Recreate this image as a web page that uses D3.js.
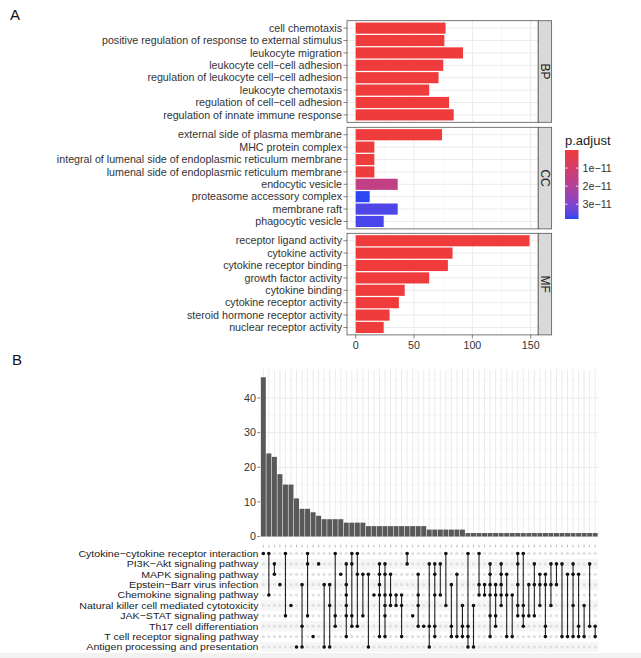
<!DOCTYPE html>
<html><head><meta charset="utf-8">
<script src="https://cdn.jsdelivr.net/npm/d3@7"></script>
<style>
body{margin:0;background:#fff}
svg{display:block}
text{font-family:"Liberation Sans",Arial,Helvetica,sans-serif}
</style>
</head><body>
<svg id="c" width="641" height="658"></svg>
<script>
// ---------- Panel A data ----------
const bpTerms = ["cell chemotaxis","positive regulation of response to external stimulus","leukocyte migration","leukocyte cell\u2212cell adhesion","regulation of leukocyte cell\u2212cell adhesion","leukocyte chemotaxis","regulation of cell\u2212cell adhesion","regulation of innate immune response"];
const bpCounts = [77,76,92,75,71,63,80,84];
const bpPadj = [3.1e-22,5.4e-20,1.2e-24,2.0e-19,3.3e-18,6.1e-18,7.5e-19,1.1e-18];

const ccTerms = ["external side of plasma membrane","MHC protein complex","integral of lumenal side of endoplasmic reticulum membrane","lumenal side of endoplasmic reticulum membrane","endocytic vesicle","proteasome accessory complex","membrane raft","phagocytic vesicle"];
const ccCounts = [74,16,16,16,36,12,36,24];
const ccPadj = [2.4e-16,1.9e-13,4.6e-13,4.6e-13,1.55e-11,3.82e-11,3.6e-11,3.65e-11];

const mfTerms = ["receptor ligand activity","cytokine activity","cytokine receptor binding","growth factor activity","cytokine binding","cytokine receptor activity","steroid hormone receptor activity","nuclear receptor activity"];
const mfCounts = [149,83,79,63,42,37,29,24];
const mfPadj = [1.0e-40,2.0e-30,5.0e-29,3.0e-20,6.0e-24,2.0e-21,4.0e-14,2.0e-13];

const ontologies = ["BP","CC","MF"];
const countTicks = [0,50,100,150];
const padjTicks = [1e-11,2e-11,3e-11];
const padjTickLabels = ["1e\u221211","2e\u221211","3e\u221211"];

// ---------- Panel B data ----------
const pathways = ["Cytokine\u2212cytokine receptor interaction","PI3K\u2212Akt signaling pathway","MAPK signaling pathway","Epstein\u2212Barr virus infection","Chemokine signaling pathway","Natural killer cell mediated cytotoxicity","JAK\u2212STAT signaling pathway","Th17 cell differentiation","T cell receptor signaling pathway","Antigen processing and presentation"];
const intersectionSizes = [46,24,23,18,15,15,11,8,8,7,6,5,5,5,5,4,4,4,4,3,3,3,3,3,3,3,3,3,3,3,2,2,2,2,2,2,2,1,1,1,1,1,1,1,1,1,1,1,1,1,1,1,1,1,1,1,1,1,1,1,1];
// member pathways of each intersection (1-based positions in `pathways`)
const intersectionSets = [
 [1],[1,5],[2,3],[4],[1,7],[6],[10],[4,8,10],[1,2,7],[9],
 [2],[4,10],[4,6,10],[1,7,8],[3],[2,4,5,6,7,9],[1,2,7,8],[1,3,8],[3,7],[3,10],
 [5],[2,3,4,5,9],[2,3,5,6,7,9],[3,5,6],[5,6],[5,6,9],[1,2],[7],[3,5,6,8],[8],
 [2,8,10],[2,3,5,8,9],[2,5],[1,6],[4,8,9],[3,9],[6,8,9],[1,8,9,10],[6,10],[1,4,5],
 [4,5],[2,3,4,5,7,9],[4,5,7,8],[2,3,4,5,6],[3,5,9],[5,9],[1,2,4,6,7],[1,6,7,8],[4,7],[2,4,7],
 [3,4,6],[3,4,8,9],[2,4,6],[2,4],[2,9],[3,9],[2,3,6,9],[3,8,9],[6,9],[2,8],
 [8,9]
];
const sizeTicks = [0,10,20,30,40];

// ---------- drawing ----------
const svg = d3.select("#c");
const FS = 10.7;
const axisCol = "#333";

svg.append("rect").attr("x",0).attr("y",653).attr("width",641).attr("height",5).attr("fill","#F2F2F2");

// labels A / B
svg.append("text").attr("x",10).attr("y",19.5).attr("font-size",15).attr("fill","#111").text("A");
svg.append("text").attr("x",12).attr("y",365).attr("font-size",15).attr("fill","#111").text("B");

// ---- Panel A ----
const allCounts = bpCounts.concat(ccCounts, mfCounts);
const allPadj = bpPadj.concat(ccPadj, mfPadj);
const cMax = d3.max(allCounts);
const xA = d3.scaleLinear().domain([0,150]).range([355.7,530.7]);
const padA = 0.05*cMax;
const pL = xA(-padA), pR = xA(cMax+padA);
const stripW = 13.4;
const padjExt = [0, d3.max(allPadj)];
const color = d3.scaleLinear().domain(padjExt).range(["#EF3B3B","#2B47F2"]).interpolate(d3.interpolateLab);

const panelTops = [20.7,127.3,233.3];
const panelH = 101.6;
const groups = [
  {terms:bpTerms,counts:bpCounts,padj:bpPadj},
  {terms:ccTerms,counts:ccCounts,padj:ccPadj},
  {terms:mfTerms,counts:mfCounts,padj:mfPadj}
];
groups.forEach((g,gi)=>{
  const top = panelTops[gi];
  const y = d3.scaleBand().domain(g.terms).range([top, top+panelH]).paddingInner(0.1).paddingOuter(0.15);
  const G = svg.append("g");
  G.append("rect").attr("x",pL).attr("y",top).attr("width",pR-pL).attr("height",panelH).attr("fill","#fff");
  [25,75,125].forEach(v=>G.append("line").attr("x1",xA(v)).attr("x2",xA(v)).attr("y1",top).attr("y2",top+panelH).attr("stroke","#F4F4F4").attr("stroke-width",0.6));
  countTicks.forEach(v=>G.append("line").attr("x1",xA(v)).attr("x2",xA(v)).attr("y1",top).attr("y2",top+panelH).attr("stroke","#EBEBEB").attr("stroke-width",1));
  g.terms.forEach(t=>{
    const cy = y(t)+y.bandwidth()/2;
    G.append("line").attr("x1",pL).attr("x2",pR).attr("y1",cy).attr("y2",cy).attr("stroke","#EBEBEB").attr("stroke-width",1);
  });
  G.selectAll("rect.bar").data(g.terms).join("rect").attr("class","bar")
    .attr("x",xA(0)).attr("y",t=>y(t)).attr("height",y.bandwidth())
    .attr("width",(t,i)=>xA(g.counts[i])-xA(0))
    .attr("fill",(t,i)=>color(g.padj[i]));
  G.append("rect").attr("x",pL).attr("y",top).attr("width",pR-pL).attr("height",panelH).attr("fill","none").attr("stroke","#555").attr("stroke-width",0.8);
  G.append("rect").attr("x",pR).attr("y",top).attr("width",stripW).attr("height",panelH).attr("fill","#D9D9D9").attr("stroke","#555").attr("stroke-width",0.8);
  G.append("text").attr("transform",`translate(${pR+stripW/2},${top+panelH/2}) rotate(90)`)
    .attr("text-anchor","middle").attr("dy","0.35em").attr("font-size",12).attr("fill","#1a1a1a").text(ontologies[gi]);
  g.terms.forEach(t=>{
    const cy = y(t)+y.bandwidth()/2;
    G.append("line").attr("x1",pL-3.6).attr("x2",pL).attr("y1",cy).attr("y2",cy).attr("stroke",axisCol).attr("stroke-width",0.6);
    G.append("text").attr("x",pL-5).attr("y",cy).attr("dy","0.35em").attr("text-anchor","end").attr("font-size",FS).attr("fill",axisCol).text(t);
  });
});
const aBottom = panelTops[2]+panelH;
countTicks.forEach(v=>{
  svg.append("line").attr("x1",xA(v)).attr("x2",xA(v)).attr("y1",aBottom).attr("y2",aBottom+3.6).attr("stroke",axisCol).attr("stroke-width",0.6);
  svg.append("text").attr("x",xA(v)).attr("y",aBottom+10.5).attr("dy","0.35em").attr("text-anchor","middle").attr("font-size",FS).attr("fill",axisCol).text(v);
});

// legend
const lgX = 565, lgTop = 150, lgBot = 219, lgW = 13.5;
svg.append("text").attr("x",lgX).attr("y",145).attr("font-size",13).attr("fill","#1a1a1a").text("p.adjust");
const defs = svg.append("defs");
const grad = defs.append("linearGradient").attr("id","pg").attr("x1",0).attr("x2",0).attr("y1",0).attr("y2",1);
d3.range(0,1.0001,0.05).forEach(f=>{
  grad.append("stop").attr("offset",f).attr("stop-color",color(padjExt[0]+f*(padjExt[1]-padjExt[0])));
});
svg.append("rect").attr("x",lgX).attr("y",lgTop).attr("width",lgW).attr("height",lgBot-lgTop).attr("fill","url(#pg)");
const lgY = d3.scaleLinear().domain(padjExt).range([lgTop,lgBot]);
padjTicks.forEach((v,i)=>{
  const yy = lgY(v);
  svg.append("line").attr("x1",lgX).attr("x2",lgX+2.7).attr("y1",yy).attr("y2",yy).attr("stroke","#fff").attr("stroke-width",0.8);
  svg.append("line").attr("x1",lgX+lgW-2.7).attr("x2",lgX+lgW).attr("y1",yy).attr("y2",yy).attr("stroke","#fff").attr("stroke-width",0.8);
  svg.append("text").attr("x",lgX+lgW+4).attr("y",yy).attr("dy","0.35em").attr("font-size",FS).attr("fill",axisCol).text(padjTickLabels[i]);
});

// ---- Panel B ----
const nCols = intersectionSizes.length;
const bL = 260, bR = 598.5;
const xB = d3.scaleBand().domain(d3.range(nCols)).range([bL,bR]).paddingInner(0.1).paddingOuter(0.15);
const cx = i => xB(i)+xB.bandwidth()/2;
const yB = d3.scaleLinear().domain([0, d3.max(intersectionSizes)*1.05]).range([536.5,369.3]);
const B = svg.append("g");
d3.range(0,46,5).forEach(v=>{
  B.append("line").attr("x1",bL).attr("x2",bR).attr("y1",yB(v)).attr("y2",yB(v)).attr("stroke",v%10===0?"#EBEBEB":"#F3F3F3").attr("stroke-width",v%10===0?1:0.6);
});
d3.range(nCols).forEach(i=>{
  B.append("line").attr("x1",cx(i)).attr("x2",cx(i)).attr("y1",yB.range()[1]).attr("y2",yB(0)).attr("stroke","#EBEBEB").attr("stroke-width",1);
});
B.selectAll("rect.ib").data(intersectionSizes).join("rect").attr("class","ib")
  .attr("x",(d,i)=>xB(i)).attr("width",xB.bandwidth())
  .attr("y",d=>yB(d)).attr("height",d=>yB(0)-yB(d)).attr("fill","#595959");
sizeTicks.forEach(v=>{
  B.append("line").attr("x1",bL-2.8).attr("x2",bL).attr("y1",yB(v)).attr("y2",yB(v)).attr("stroke",axisCol).attr("stroke-width",0.6);
  B.append("text").attr("x",bL-4).attr("y",yB(v)).attr("dy","0.35em").attr("text-anchor","end").attr("font-size",FS).attr("fill",axisCol).text(v);
});
d3.range(nCols).forEach(i=>{
  B.append("line").attr("x1",cx(i)).attr("x2",cx(i)).attr("y1",544.8).attr("y2",547.4).attr("stroke","#999").attr("stroke-width",0.7);
});
// combination matrix
const yM = d3.scalePoint().domain(d3.range(pathways.length)).range([553.5,647]);
const rowH = yM.step();
pathways.forEach((p,r)=>{
  if(r%2===1) B.append("rect").attr("x",bL).attr("y",yM(r)-rowH/2).attr("width",bR-bL).attr("height",rowH).attr("fill","#F6F6F6");
  B.append("text").attr("transform",`translate(258.5,${yM(r)}) scale(1.13,1)`).attr("dy","0.35em")
    .attr("text-anchor","end").attr("font-size",9.4).attr("fill","#222").text(p);
});
d3.range(nCols).forEach(i=>{
  pathways.forEach((p,r)=>{
    B.append("circle").attr("cx",cx(i)).attr("cy",yM(r)).attr("r",1.6).attr("fill","#E0E0E0");
  });
});
intersectionSets.forEach((s,i)=>{
  const rows = s.map(k=>k-1);
  if(rows.length>1){
    B.append("line").attr("x1",cx(i)).attr("x2",cx(i)).attr("y1",yM(d3.min(rows))).attr("y2",yM(d3.max(rows))).attr("stroke","#222").attr("stroke-width",1.1);
  }
  rows.forEach(r=>B.append("circle").attr("cx",cx(i)).attr("cy",yM(r)).attr("r",1.8).attr("fill","#111"));
});
</script>
</body></html>
